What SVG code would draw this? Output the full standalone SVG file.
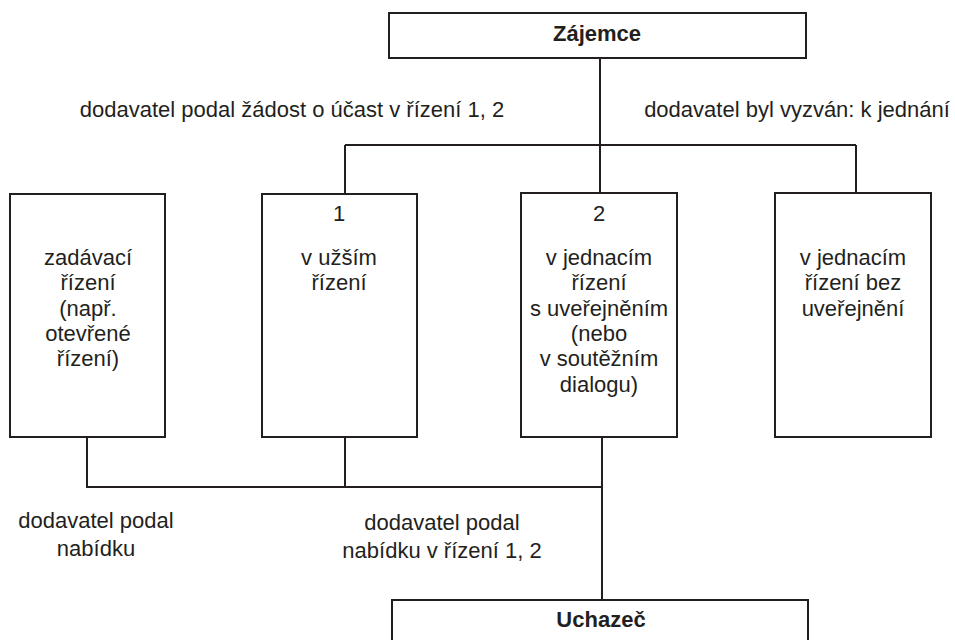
<svg xmlns="http://www.w3.org/2000/svg" width="955" height="640" viewBox="0 0 955 640">
<style>
.box{fill:#fff;stroke:#231f20;stroke-width:2}
.ln{fill:none;stroke:#231f20;stroke-width:2}
text{font-family:"Liberation Sans",Arial,sans-serif;font-size:22px;fill:#231f20;text-anchor:middle}
.b{font-weight:bold}
</style>
<rect width="955" height="640" fill="#fff"/>
<g id="connectors">
<path class="ln" d="M600,58 V145 M345,145 H856 M345,145 V194 M600,145 V193 M856,145 V193"/>
<path class="ln" d="M87,437 V487 H602 M345,437 V487 M602,437 V600"/>
</g>
<g id="zajemce">
<rect class="box" x="389" y="13" width="417" height="45"/>
<text class="b" x="597" y="41">Zájemce</text>
</g>
<g id="label-top-left"><text x="292" y="117">dodavatel podal žádost o účast v řízení 1, 2</text></g>
<g id="label-top-right"><text x="797" y="117">dodavatel byl vyzván: k jednání</text></g>
<g id="box-zadavaci">
<rect class="box" x="10" y="194" width="155" height="243"/>
<text x="88" y="265">zadávací</text>
<text x="88" y="290">řízení</text>
<text x="88" y="316">(např.</text>
<text x="88" y="341">otevřené</text>
<text x="88" y="366">řízení)</text>
</g>
<g id="box-uzsi">
<rect class="box" x="262" y="194" width="155" height="243"/>
<text x="339" y="221">1</text>
<text x="339" y="265">v užším</text>
<text x="339" y="290">řízení</text>
</g>
<g id="box-jednaci-s">
<rect class="box" x="521" y="193" width="156" height="244"/>
<text x="599" y="221">2</text>
<text x="599" y="265">v jednacím</text>
<text x="599" y="290">řízení</text>
<text x="599" y="316">s uveřejněním</text>
<text x="599" y="341">(nebo</text>
<text x="599" y="366">v soutěžním</text>
<text x="599" y="392">dialogu)</text>
</g>
<g id="box-jednaci-bez">
<rect class="box" x="775" y="193" width="156" height="244"/>
<text x="853" y="265">v jednacím</text>
<text x="853" y="290">řízení bez</text>
<text x="853" y="316">uveřejnění</text>
</g>
<g id="label-bottom-left">
<text x="96" y="528">dodavatel podal</text>
<text x="96" y="556">nabídku</text>
</g>
<g id="label-bottom-mid">
<text x="442" y="530">dodavatel podal</text>
<text x="442" y="558">nabídku v řízení 1, 2</text>
</g>
<g id="uchazec">
<rect class="box" x="392" y="600" width="416" height="50"/>
<text class="b" x="601" y="627">Uchazeč</text>
</g>
</svg>
